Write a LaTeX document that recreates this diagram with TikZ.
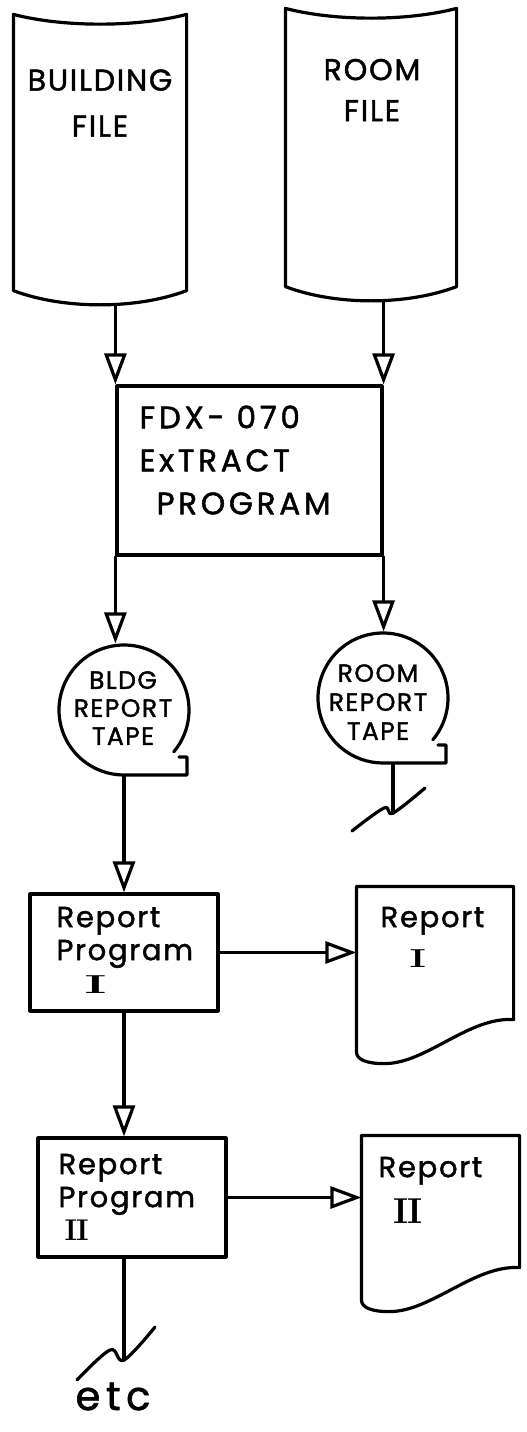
\documentclass[tikz,border=0pt]{standalone}
\usepackage{fontspec}
\usepackage{graphicx}
\newfontfamily\hand[LetterSpace=6,FakeBold=1.5]{Poppins}
\usetikzlibrary{arrows.meta,calc}
\newcommand\fileoutline[1]{%
  \draw (#1.north west) .. controls ($(#1.north west)+(50,13)$) and ($(#1.north east)+(-50,13)$) .. (#1.north east)
    -- ($(#1.south east)+(0,-14)$) .. controls ($(#1.south east)+(-50,5)$) and ($(#1.south west)+(50,5)$) .. ($(#1.south west)+(0,-14)$)
    -- cycle;}
\newcommand\docoutline[1]{%
  \draw (#1.north west) -- (#1.north east) -- ($(#1.south east)+(0,-44)$)
    .. controls ($(#1.south east)+(-45,-47)$) and ($(#1.south west)+(70,0)$) .. ($(#1.south west)+(28,0)$)
    .. controls ($(#1.south west)+(10,0)$) and ($(#1.south west)+(0,-4)$) .. ($(#1.south west)+(0,-12)$)
    -- cycle;}
\newcommand\tapeoutline[1]{%
  \draw ($(#1.center)+(-40:65pt)$) arc[start angle=-40, end angle=270, radius=65pt]
    -- ++(63,0) -- ++(0,-18) -- ++(-8,0);}
\newcommand\romI[2]{{\rmfamily\bfseries\fontsize{#1}{#1}\selectfont\scalebox{#2}[1]{I}}}
\newcommand\romII[2]{{\rmfamily\bfseries\fontsize{#1}{#1}\selectfont\scalebox{#2}[1]{I\kern-1pt I}}}
\begin{document}
\begin{tikzpicture}[x=1pt,y=-1pt,line width=3.2pt,line join=round,line cap=round,
  frame/.style={draw=none,rectangle,inner sep=0pt},
  procbox/.style={draw,rectangle,inner sep=0pt},
  tapenode/.style={circle,draw=none,inner sep=0pt,minimum size=130pt},
  arr/.style={-{Triangle[open,length=31pt,width=22pt]}},
  htxt/.style={align=center,inner sep=0pt}]
\useasboundingbox (0,0) rectangle (527,1432);
\fill[white] (0,0) rectangle (527,1432);

% files
\node[frame,minimum width=170pt,minimum height=287pt] (bf) at (100,159.5) {};
\node[frame,minimum width=168pt,minimum height=289pt] (rf) at (371,154.5) {};
\fileoutline{bf}
\fileoutline{rf}
\node[htxt,font=\hand\fontsize{30}{46}\selectfont] (bft) at (100,103) {BUILDING\\FILE};
\node[htxt,font=\hand\fontsize{30}{41}\selectfont] (rft) at (372,90) {ROOM\\FILE};

% extract program
\node[procbox,minimum width=265pt,minimum height=169pt] (ex) at (249.5,470.5) {};
\node[align=left,anchor=west,inner sep=0pt,font=\hand\fontsize{31}{43}\selectfont\addfontfeature{LetterSpace=12}] (ext) at (138,460)
  {FDX- 070\\ExTRACT\\\hspace*{17pt}PROGRAM};
\draw[arr] (ex.north west |- bf.south) -- (ex.north west);
\draw[arr] (ex.north east |- rf.south) -- (ex.north east);

% tapes
\node[tapenode] (bt) at (124,710) {};
\node[tapenode] (rt) at (383,698) {};
\tapeoutline{bt}
\tapeoutline{rt}
\node[htxt,font=\hand\fontsize{25}{28}\selectfont] (btt) at (123,708) {BLDG\\REPORT\\TAPE};
\node[htxt,font=\hand\fontsize{25}{29}\selectfont] (rtt) at (378,702) {ROOM\\REPORT\\TAPE};
\draw[arr] (ex.south west) -- (ex.south west |- bt.north);
\draw[arr] (ex.south east) -- (ex.south east |- rt.north);

% room tape break
\coordinate (rbrk) at (393,813);
\draw (rt.south -| rbrk) -- (rbrk);
\draw plot[smooth,tension=0.6] coordinates {(352,831) (384,808) (393,813) (425,788)};

% report program I
\node[procbox,minimum width=188pt,minimum height=117pt] (rp1) at (124,952.5) {};
\node[align=left,anchor=west,inner sep=0pt,font=\hand\fontsize{29}{33}\selectfont] (rp1t) at (55,950)
  {Report\\Program\\\hspace*{28pt}\romI{26}{2.0}};
\draw[arr] (bt.south) -- (bt.south |- rp1.north);

% report I
\node[frame,minimum width=154pt,minimum height=174pt] (r1) at (435,975) {};
\docoutline{r1}
\node[align=left,anchor=west,inner sep=0pt,font=\hand\fontsize{29}{40}\selectfont] (r1t) at (379,937)
  {Report\\\hspace*{29pt}\romI{26}{1.5}};
\draw[arr] (rp1.east) -- (rp1.east -| r1.west);

% report program II
\node[procbox,minimum width=188pt,minimum height=119pt] (rp2) at (132,1197.5) {};
\node[align=left,anchor=west,inner sep=0pt,font=\hand\fontsize{29}{33}\selectfont] (rp2t) at (57,1197)
  {Report\\Program\\\hspace*{6pt}\romII{30}{1.0}};
\draw[arr] (rp1.south) -- (rp1.south |- rp2.north);

% report II
\node[frame,minimum width=155pt,minimum height=173pt] (r2) at (440.5,1223.5) {};
\docoutline{r2}
\node[align=left,anchor=west,inner sep=0pt,font=\hand\fontsize{29}{46}\selectfont] (r2t) at (377,1190)
  {Report\\\hspace*{15pt}\romII{36}{1.0}};
\draw[arr] (rp2.east) -- (rp2.east -| r2.west);

% etc
\coordinate (ebrk) at (124,1360);
\draw (rp2.south -| ebrk) -- (ebrk);
\draw plot[smooth,tension=0.6] coordinates {(77,1380) (110,1350) (124,1360) (155,1327)};
\node[inner sep=0pt,anchor=base,font=\hand\fontsize{40}{40}\selectfont\addfontfeature{LetterSpace=14}] (etc) at (113,1410) {etc};
\end{tikzpicture}
\end{document}
